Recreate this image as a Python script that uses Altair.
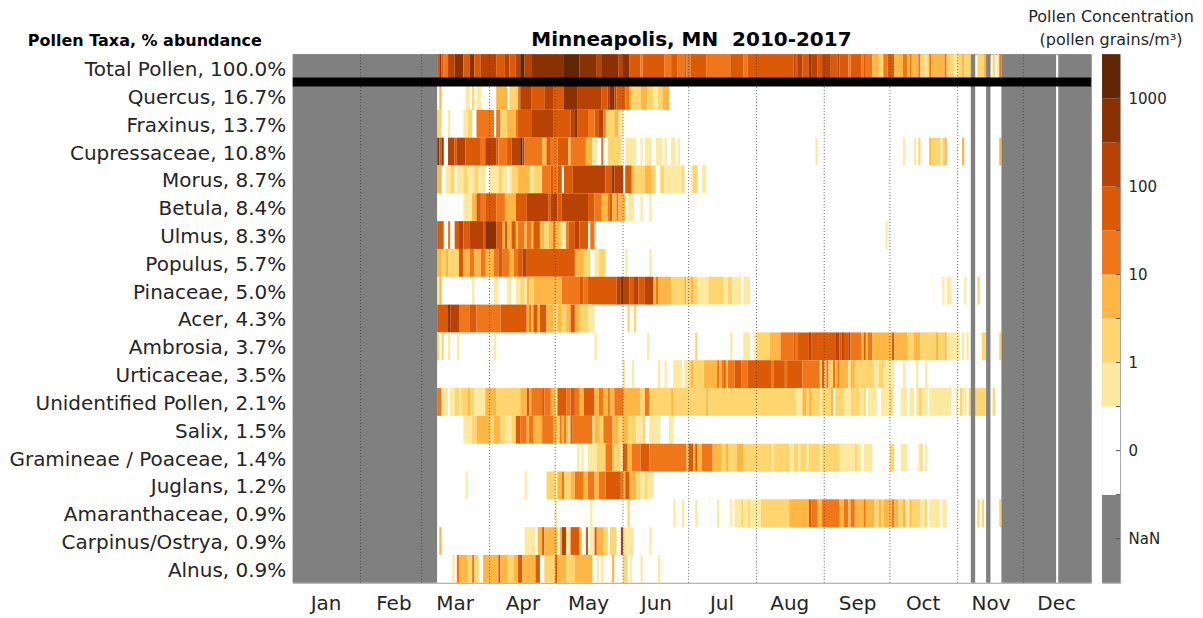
import altair as alt
import pandas as pd

TAXA = ["Total Pollen, 100.0%", "Quercus, 16.7%", "Fraxinus, 13.7%", "Cupressaceae, 10.8%", "Morus, 8.7%",
        "Betula, 8.4%", "Ulmus, 8.3%", "Populus, 5.7%", "Pinaceae, 5.0%", "Acer, 4.3%", "Ambrosia, 3.7%",
        "Urticaceae, 3.5%", "Unidentified Pollen, 2.1%", "Salix, 1.5%", "Gramineae / Poaceae, 1.4%",
        "Juglans, 1.2%", "Amaranthaceae, 0.9%", "Carpinus/Ostrya, 0.9%", "Alnus, 0.9%"]

# each row: (first day of year, colour class) change points; class 0 = zero pollen
TOTAL = [(66,5),(67,7),(68,5),(69,4),(71,6),(74,7),(78,5),(81,7),(83,5),(86,6),(93,5),(97,6),(99,5),(102,6),(104,8),(106,6),(109,7),(124,8),(131,7),(139,6),(141,7),(149,6),(151,7),(154,5),(159,4),(160,5),(170,4),(173,5),(176,4),(179,5),(180,4),(182,5),(189,4),(200,5),(206,4),(208,5),(229,6),(230,5),(231,6),(233,5),(236,7),(237,6),(240,5),(242,6),(246,5),(249,6),(250,5),(254,4),(255,5),(260,4),(261,5),(262,4),(265,3),(268,2),(270,4),(272,5),(275,3),(279,4),(281,3),(282,4),(283,3),(286,4),(287,2),(289,1),(290,2),(291,4),(292,3),(298,4),(299,2),(302,1),(304,2),(306,3),(307,2),(312,0),(313,2),(316,3),(319,0),(320,2),(321,0),(322,1),(323,4)]
QUERCUS = [(67,3),(68,0),(79,1),(81,0),(82,2),(83,0),(84,1),(86,0),(93,3),(98,0),(99,2),(103,4),(104,6),(109,5),(115,6),(119,5),(124,7),(130,6),(141,5),(144,6),(145,7),(147,6),(148,5),(152,4),(154,3),(155,2),(159,3),(162,2),(165,1),(167,2),(169,3),(172,0)]
FRAXINUS = [(66,2),(68,0),(71,1),(72,0),(78,1),(80,2),(82,0),(84,4),(92,0),(93,4),(95,2),(98,3),(102,4),(103,5),(109,6),(119,5),(127,6),(129,7),(130,5),(135,4),(138,5),(140,6),(142,4),(143,2),(147,3),(149,1),(151,0)]
CUPRESSACEAE = [(66,7),(67,5),(68,7),(69,0),(71,6),(74,5),(75,6),(79,5),(86,4),(88,6),(93,5),(94,4),(98,5),(100,6),(104,8),(105,6),(106,4),(114,3),(116,5),(118,4),(121,5),(126,3),(127,4),(134,3),(137,1),(139,0),(141,4),(142,0),(144,2),(150,0),(152,1),(157,0),(159,1),(160,0),(161,1),(164,0),(166,1),(169,0),(170,1),(171,0),(173,1),(175,0),(176,1),(177,0),(239,1),(240,0),(279,1),(280,0),(284,1),(285,0),(286,2),(287,0),(291,3),(292,2),(296,1),(297,2),(298,3),(299,0),(306,3),(307,0),(323,3),(324,0)]
MORUS = [(66,3),(68,0),(70,1),(72,2),(74,0),(75,1),(78,2),(80,1),(83,2),(85,1),(88,0),(90,1),(94,2),(96,1),(98,0),(99,1),(100,2),(103,3),(108,1),(110,2),(114,4),(118,5),(119,4),(121,5),(123,0),(124,5),(128,6),(143,5),(146,7),(147,6),(151,0),(152,5),(155,3),(156,2),(161,3),(164,2),(166,0),(168,2),(170,1),(178,2),(179,0),(182,1),(183,2),(185,0),(187,1),(189,0)]
BETULA = [(78,1),(82,3),(84,5),(86,4),(88,5),(93,4),(97,3),(102,5),(107,6),(117,5),(118,6),(121,5),(123,6),(135,5),(138,4),(141,3),(144,4),(145,5),(146,3),(148,4),(149,3),(152,0),(153,1),(156,0),(159,1),(160,0),(163,1),(164,0)]
ULMUS = [(66,5),(69,0),(71,4),(72,0),(74,5),(76,6),(78,5),(81,6),(87,5),(88,7),(93,5),(96,3),(97,5),(98,3),(100,5),(102,3),(103,4),(106,3),(107,4),(109,3),(110,5),(113,3),(115,2),(117,3),(119,4),(120,3),(122,2),(123,1),(125,4),(126,5),(129,6),(131,5),(135,0),(136,4),(138,0),(271,1),(272,0)]
POPULUS = [(66,3),(68,2),(70,3),(71,2),(76,5),(78,3),(81,4),(83,3),(86,4),(88,3),(92,4),(94,5),(96,4),(99,3),(101,4),(103,5),(105,6),(107,5),(129,3),(133,2),(136,0),(138,1),(140,2),(143,0),(152,1),(153,0),(163,1),(164,0)]
PINACEAE = [(66,1),(67,3),(68,0),(82,1),(83,0),(92,1),(94,0),(98,1),(100,0),(102,1),(104,2),(106,1),(107,3),(108,2),(110,3),(123,4),(131,5),(133,4),(135,5),(148,6),(150,7),(151,6),(154,5),(156,6),(158,5),(161,6),(165,3),(166,4),(167,3),(173,2),(179,3),(180,2),(182,3),(183,2),(185,1),(190,2),(197,1),(199,2),(201,1),(205,0),(206,1),(209,0),(297,1),(298,0),(299,1),(301,0),(307,1),(308,0),(313,2),(314,0)]
ACER = [(66,5),(71,7),(72,6),(76,4),(81,5),(84,4),(95,5),(107,3),(108,4),(109,3),(110,5),(112,3),(113,5),(116,3),(119,2),(121,3),(123,2),(125,3),(127,5),(129,3),(131,2),(135,1),(138,0),(153,2),(154,0),(156,2),(157,0)]
AMBROSIA = [(66,2),(67,0),(68,2),(69,0),(71,1),(72,0),(75,1),(76,0),(92,1),(93,0),(138,1),(139,0),(162,1),(163,0),(184,2),(185,0),(200,1),(201,0),(206,1),(209,0),(211,1),(212,2),(218,3),(223,4),(229,5),(230,4),(231,5),(236,6),(237,5),(248,6),(250,5),(251,6),(252,5),(254,6),(255,4),(260,3),(261,5),(262,3),(263,4),(265,3),(274,5),(275,3),(281,2),(284,3),(287,2),(294,3),(295,2),(298,3),(299,1),(305,0),(306,1),(307,0),(308,1),(309,0),(315,2),(317,0),(323,2),(324,0)]
URTICACEAE = [(151,1),(152,0),(155,1),(156,0),(167,1),(168,0),(170,1),(171,0),(174,1),(178,0),(179,1),(181,2),(182,3),(183,2),(188,3),(194,4),(195,3),(196,4),(197,5),(198,3),(199,4),(202,5),(205,4),(208,5),(219,4),(220,5),(225,4),(226,5),(233,4),(241,2),(242,5),(243,3),(244,4),(245,2),(247,4),(248,3),(249,4),(250,3),(254,1),(255,3),(257,2),(266,1),(268,2),(270,1),(275,0),(279,1),(280,0),(285,1),(286,0),(289,1),(290,0)]
UNIDENTIFIED = [(66,4),(68,1),(71,0),(72,1),(74,2),(76,1),(77,2),(80,3),(81,2),(83,1),(88,3),(93,2),(104,3),(107,5),(108,3),(109,4),(114,5),(115,4),(118,3),(120,1),(121,5),(125,4),(127,5),(129,4),(131,3),(133,5),(138,3),(140,4),(142,3),(144,4),(145,3),(147,4),(151,3),(159,2),(161,4),(163,2),(173,3),(174,2),(189,3),(190,2),(230,1),(233,3),(235,2),(236,3),(237,2),(241,1),(242,2),(246,3),(247,0),(248,2),(252,1),(255,2),(259,1),(261,2),(262,0),(263,1),(267,0),(269,1),(273,2),(274,1),(275,0),(278,1),(281,0),(282,1),(284,0),(285,1),(286,2),(288,1),(290,0),(291,1),(301,0),(303,1),(304,0),(305,2),(306,1),(308,0),(309,2),(317,0),(320,2),(321,0)]
SALIX = [(78,1),(82,2),(84,3),(90,2),(92,3),(95,2),(97,1),(100,2),(102,5),(104,4),(107,3),(108,4),(110,3),(114,4),(119,3),(121,2),(122,4),(123,3),(124,4),(125,3),(126,2),(127,5),(128,4),(137,2),(138,3),(140,2),(142,4),(146,3),(149,2),(151,3),(153,2),(157,1),(160,2),(161,0),(163,1),(168,0),(172,1),(174,0)]
GRAMINEAE = [(130,1),(131,0),(132,1),(133,0),(135,1),(139,2),(143,4),(146,3),(147,2),(150,1),(151,5),(153,3),(155,4),(159,5),(163,4),(180,3),(181,5),(183,3),(184,5),(185,3),(187,4),(192,3),(196,2),(198,3),(199,2),(203,3),(206,2),(219,1),(220,2),(227,1),(229,2),(231,1),(232,2),(235,1),(236,2),(241,1),(242,2),(250,1),(257,2),(258,1),(260,0),(261,1),(265,0),(273,2),(275,0),(278,1),(281,0),(286,1),(287,2),(288,0),(289,1),(290,0)]
JUGLANS = [(79,1),(80,0),(106,1),(107,0),(116,2),(120,1),(121,3),(123,4),(124,2),(127,3),(129,4),(133,3),(135,4),(138,3),(140,4),(143,5),(150,4),(151,3),(152,5),(154,3),(157,2),(159,1),(161,2),(162,1),(165,0)]
AMARANTHACEAE = [(120,1),(121,0),(136,1),(137,0),(153,2),(154,0),(174,1),(175,0),(178,1),(179,0),(184,1),(185,0),(194,1),(195,0),(200,1),(201,0),(202,1),(205,2),(206,1),(208,2),(209,1),(214,2),(227,3),(236,5),(237,4),(240,3),(242,4),(250,3),(252,4),(254,3),(255,4),(257,3),(261,4),(262,3),(266,2),(268,3),(269,2),(270,3),(274,4),(275,3),(277,2),(279,3),(280,1),(282,3),(283,2),(287,1),(289,2),(290,0),(291,1),(296,0),(297,1),(299,0),(313,2),(314,0),(315,2),(316,0),(323,2),(324,0)]
CARPINUS = [(67,3),(68,0),(106,1),(111,0),(112,3),(114,5),(115,3),(121,0),(122,3),(123,6),(125,1),(127,5),(131,3),(132,0),(134,5),(135,0),(136,1),(138,5),(139,3),(142,2),(144,0),(145,2),(148,0),(150,6),(151,1),(156,0),(163,1),(164,0)]
ALNUS = [(73,1),(74,0),(75,4),(76,3),(80,2),(82,4),(83,2),(85,0),(87,3),(94,5),(95,3),(98,2),(101,3),(103,5),(105,3),(111,5),(113,0),(115,2),(120,5),(121,3),(125,2),(129,3),(137,0),(139,1),(140,0),(141,1),(142,0),(146,3),(147,0),(151,2),(153,0),(154,1),(155,0),(159,1),(160,0),(167,1),(168,0)]
ROWS = [TOTAL, QUERCUS, FRAXINUS, CUPRESSACEAE, MORUS, BETULA, ULMUS, POPULUS, PINACEAE, ACER, AMBROSIA, URTICACEAE,
        UNIDENTIFIED, SALIX, GRAMINEAE, JUGLANS, AMARANTHACEAE, CARPINUS, ALNUS]

NAN_START = [0, 310, 317, 324, 350]
NAN_END = [66, 312, 319, 349, 365]
LAST_SAMPLED = 324
MONTH_STARTS = [31, 59, 90, 120, 151, 181, 212, 243, 273, 304, 334]
MONTH_LABEL_DAYS = [15, 46, 74, 105, 135, 166, 196, 227, 258, 288, 319, 349]

CLASSES = [1, 2, 3, 4, 5, 6, 7, 8]
COLOURS = ["#fee9a0", "#fed56f", "#feb744", "#ef7619", "#db5a07", "#b84203", "#8a3103", "#5f2504"]
NAN_COLOUR = "#808080"
BAR_CLASSES = [-1, 0, 1, 2, 3, 4, 5, 6, 7, 8]
BAR_FROM = [0, 2, 4, 5, 6, 7, 8, 9, 10, 11]
BAR_TO = [2, 4, 5, 6, 7, 8, 9, 10, 11, 12]
BAR_TICKS = [1, 2, 3, 4, 5, 6, 7, 8, 9, 10, 11]

FONT = "DejaVu Sans"
INK = "#262626"

records = []
for name, points in zip(TAXA, ROWS):
    for i, (start, level) in enumerate(points):
        end = points[i + 1][0] if i + 1 < len(points) else LAST_SAMPLED
        if level > 0:
            records.append({"taxon": name, "start": start, "end": min(end, LAST_SAMPLED), "level": level})
cells = pd.DataFrame(records)

x_scale = alt.Scale(domain=[0, 365], nice=False, zero=False)
y_scale = alt.Scale(domain=TAXA, paddingInner=0, paddingOuter=0)

heat = alt.Chart(cells).mark_rect(strokeWidth=0).encode(
    x=alt.X("start:Q", scale=x_scale,
            axis=alt.Axis(title=None, values=MONTH_LABEL_DAYS, ticks=False, domain=False, grid=False,
                          labelFontSize=20, labelFont=FONT, labelColor=INK, labelPadding=11, labelFlush=False,
                          labelOverlap=False,
                          labelExpr="{15:'Jan',46:'Feb',74:'Mar',105:'Apr',135:'May',166:'Jun',196:'Jul',227:'Aug',258:'Sep',288:'Oct',319:'Nov',349:'Dec'}[datum.value]")),
    x2="end:Q",
    y=alt.Y("taxon:N", sort=TAXA, scale=y_scale,
            axis=alt.Axis(title=None, ticks=False, domain=False, labelFontSize=20, labelFont=FONT,
                          labelColor=INK, labelPadding=7, labelLimit=400, labelOffset=2)),
    color=alt.Color("level:O", scale=alt.Scale(domain=CLASSES, range=COLOURS), legend=None),
)

nan_cols = alt.Chart(pd.DataFrame({"a": NAN_START, "b": NAN_END})).mark_rect(color=NAN_COLOUR, strokeWidth=0).encode(
    x=alt.X("a:Q", scale=x_scale), x2="b:Q", y=alt.value(0), y2=alt.value(529))

grid = alt.Chart(pd.DataFrame({"day": MONTH_STARTS})).mark_rule(
    color="#444444", strokeWidth=0.8, strokeDash=[1, 2]).encode(x=alt.X("day:Q", scale=x_scale))

sep = alt.Chart(pd.DataFrame({"taxon": [TAXA[0]]})).mark_rule(color="black", strokeWidth=9).encode(
    y=alt.Y("taxon:N", sort=TAXA, bandPosition=1, scale=y_scale),
    x=alt.value(0), x2=alt.value(799))

title = alt.Chart(pd.DataFrame({"t": ["Minneapolis, MN\u00a0\u00a02010-2017"]})).mark_text(
    font=FONT, fontSize=20, fontWeight="bold", color="black", align="center", baseline="middle").encode(
    text="t:N", x=alt.value(399), y=alt.value(-14))

taxa_head = alt.Chart(pd.DataFrame({"t": ["Pollen Taxa, % abundance"]})).mark_text(
    font=FONT, fontSize=16, fontWeight="bold", color="black", align="center", baseline="middle").encode(
    text="t:N", x=alt.value(-148), y=alt.value(-13))

main = alt.layer(heat, nan_cols, grid, sep, title, taxa_head).properties(width=799, height=529)

bar_df = pd.DataFrame({"level": BAR_CLASSES, "a": BAR_FROM, "b": BAR_TO})
bar_y = alt.Scale(domain=[0, 12], nice=False, zero=False)
bar = alt.Chart(bar_df).mark_rect(strokeWidth=0).encode(
    y=alt.Y("a:Q", scale=bar_y,
            axis=alt.Axis(title=None, orient="right", values=BAR_TICKS, ticks=False, domain=False, grid=False,
                          labelFontSize=15, labelFont=FONT, labelColor=INK, labelPadding=8, labelFlush=False,
                          labelOverlap=False,
                          labelExpr="['','NaN','','0','','1','','10','','100','','1000',''][datum.value]")),
    y2="b:Q",
    x=alt.value(0), x2=alt.value(18),
    color=alt.Color("level:O", scale=alt.Scale(domain=BAR_CLASSES, range=[NAN_COLOUR, "#ffffff"] + COLOURS), legend=None),
)
bar_ticks = alt.Chart(pd.DataFrame({"v": BAR_TICKS})).mark_rule(color="#555555", strokeWidth=1).encode(
    y=alt.Y("v:Q", scale=bar_y), x=alt.value(14), x2=alt.value(18))
head1 = alt.Chart(pd.DataFrame({"t": ["Pollen Concentration"]})).mark_text(
    font=FONT, fontSize=16, color=INK, align="center", baseline="middle").encode(
    text="t:N", x=alt.value(9), y=alt.value(-37))
head2 = alt.Chart(pd.DataFrame({"t": ["(pollen grains/m³)"]})).mark_text(
    font=FONT, fontSize=16, color=INK, align="center", baseline="middle").encode(
    text="t:N", x=alt.value(9), y=alt.value(-14))
colourbar = alt.layer(bar, bar_ticks, head1, head2).properties(width=18, height=529)

chart = alt.hconcat(main, colourbar, spacing=11, bounds="flush").resolve_scale(
    color="independent", y="independent", x="independent"
).configure_view(stroke="#a0a0a0", strokeWidth=1).properties(
    padding={"left": 0, "top": 0, "right": 0, "bottom": 0})

chart.save("out.html", embed_options={"renderer": "svg", "actions": False})
